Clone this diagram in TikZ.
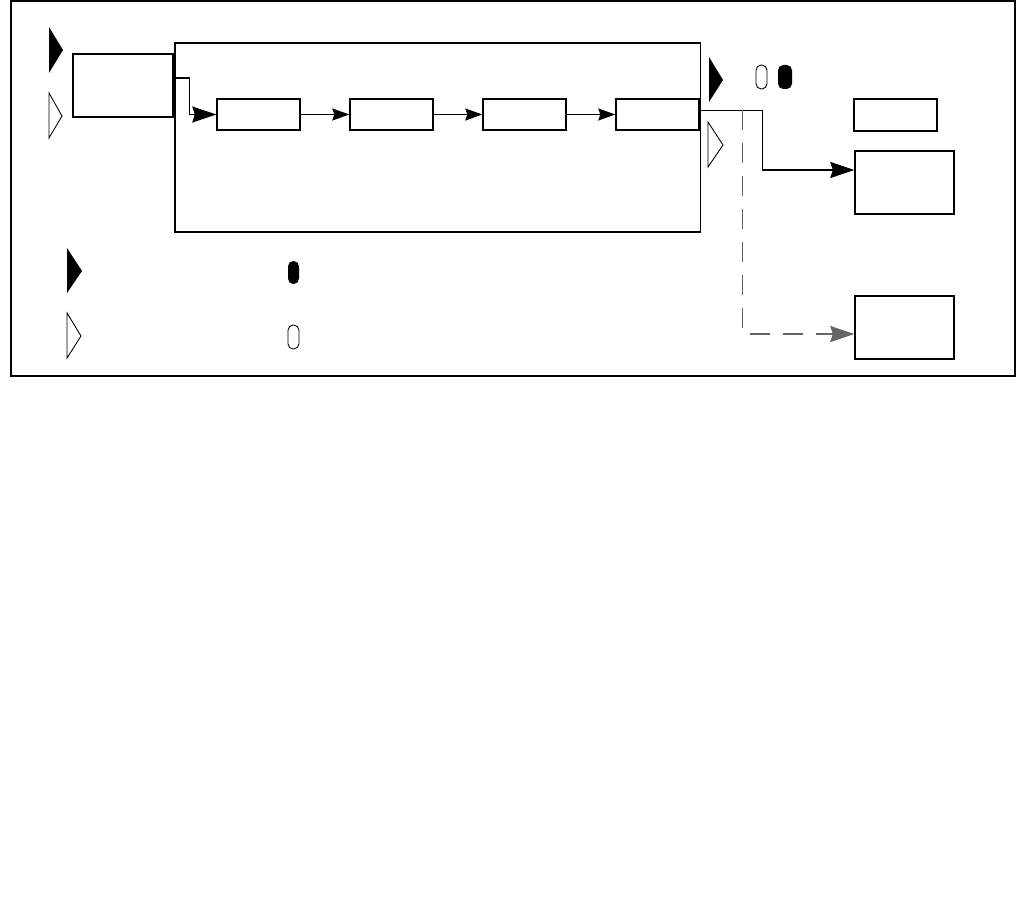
\documentclass[tikz,border=0pt]{standalone}
\usepackage{xcolor}
\usetikzlibrary{arrows.meta,calc,positioning}
\definecolor{ink}{HTML}{000000}
\definecolor{dashgray}{HTML}{666666}
\tikzset{box/.style={draw=ink, line width=.8pt, inner sep=0pt}, tip/.style={-{Stealth[length=4.8mm,width=3.2mm,inset=.5mm]}, line width=.7pt}, smalltip/.style={-{Stealth[length=3.4mm,width=2.4mm,inset=.4mm]}, line width=.7pt}, dashtip/.style={-{Stealth[length=4.8mm,width=3.2mm,inset=.5mm]}, line width=.7pt, color=dashgray, dash pattern=on 4mm off 2.6mm}, fulltri/.style={fill=ink}, opentri/.style={draw=ink, line width=.5pt, fill=white}, fullpill/.style={fill=ink, rounded corners=3pt}, openpill/.style={draw=ink, line width=.5pt, rounded corners=3pt}}

\begin{document}
\begin{tikzpicture}[x=0.02cm, y=-0.02cm]
\useasboundingbox (0,0) rectangle (1026,902);
\draw[line width=.8pt] (11,1) rectangle (1015,376);
% input block and chain
\node[box, minimum width=2cm, minimum height=1.26cm] (src) at (123,85.5) {};
\node[box, minimum width=10.51cm, minimum height=3.78cm] (chain) at (437.5,137.5) {};
\foreach \name/\cx in {s1/258.5, s2/391.5, s3/524.5, s4/657.5}
  \node[box, minimum width=1.66cm, minimum height=.62cm] (\name) at (\cx,114.5) {};
% output blocks
\node[box, minimum width=1.66cm, minimum height=.64cm] (tag) at (895.5,115) {};
\node[box, minimum width=1.98cm, minimum height=1.26cm] (outa) at (904.5,182.5) {};
\node[box, minimum width=1.98cm, minimum height=1.26cm] (outb) at (904.5,327.5) {};
% connectors
\draw[tip] ([yshift=.15cm]src.east) -| ($(s1.west)+(-27,0)$) -- (s1.west);
\draw[smalltip] (s1) -- (s2);
\draw[smalltip] (s2) -- (s3);
\draw[smalltip] (s3) -- (s4);
\coordinate (split) at ($([yshift=.08cm]s4.east)+(43,0)$);
\draw[tip] ([yshift=.08cm]s4.east) -- ++(63,0) |- ([yshift=.25cm]outa.west);
\draw[dashtip] (split) |- ([yshift=-.13cm]outb.west);
% markers
\fill[fulltri] (49,27) -- (63,50) -- (49,73) -- cycle;
\draw[opentri] (49,93) -- (62,116) -- (49,138) -- cycle;
\fill[fulltri] (709,57) -- (723,80) -- (709,102) -- cycle;
\draw[opentri] (708,122) -- (723,145) -- (708,167) -- cycle;
\draw[openpill] (756,65) rectangle (767,89);
\fill[fullpill] (778,65) rectangle (792,89);
% legend
\fill[fulltri] (67,248) -- (82,271) -- (67,293) -- cycle;
\draw[opentri] (67,313) -- (81,336) -- (67,358) -- cycle;
\fill[fullpill] (288,261) rectangle (299,284);
\draw[openpill] (288,325) rectangle (299,349);
\end{tikzpicture}
\end{document}
